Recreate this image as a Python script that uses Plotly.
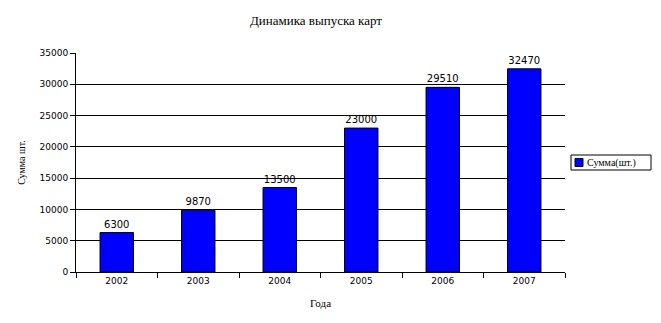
import plotly.graph_objects as go

years = ["2002", "2003", "2004", "2005", "2006", "2007"]
values = [6300, 9870, 13500, 23000, 29510, 32470]
series_name = "Сумма(шт.)"
y_ticks = [0, 5000, 10000, 15000, 20000, 25000, 30000, 35000]

W, H = 661, 323
L, R, T, B = 76, 96, 53, 51

fig = go.Figure()
fig.add_trace(go.Bar(
    x=years, y=values, name=series_name,
    marker=dict(color="#0000FF", line=dict(color="black", width=1)),
    width=0.41,
    text=[str(v) for v in values], textposition="outside",
    textfont=dict(family="DejaVu Sans", size=10, color="black"),
    cliponaxis=False, showlegend=False,
))

fig.update_layout(
    width=W, height=H,
    margin=dict(l=L, r=R, t=T, b=B, autoexpand=False),
    paper_bgcolor="white", plot_bgcolor="white",
    title=dict(text="Динамика выпуска карт", x=0.478, xanchor="center", y=1 - 20 / H, yanchor="middle",
               font=dict(family="Liberation Serif", size=13, color="black")),
    showlegend=False,
    bargap=0.59,
)

# legend box drawn manually; paper coords are relative to the plot area
def px(x):
    return (x - L) / (W - L - R)

def py(y):
    return (H - B - y) / (H - T - B)

fig.add_shape(type="rect", xref="paper", yref="paper",
              x0=px(571), x1=px(651), y0=py(155), y1=py(170),
              line=dict(color="black", width=1), fillcolor="white")
fig.add_shape(type="rect", xref="paper", yref="paper",
              x0=px(575), x1=px(583), y0=py(158.5), y1=py(166.5),
              line=dict(color="black", width=1), fillcolor="#0000FF")
fig.add_annotation(text=series_name, xref="paper", yref="paper",
                   x=px(585), y=py(162.5), xanchor="left", yanchor="middle", showarrow=False,
                   font=dict(family="Liberation Serif", size=10, color="black"))

fig.update_xaxes(
    type="category", showline=True, linecolor="black", linewidth=1,
    ticks="outside", ticklen=5, tickcolor="black", tickson="boundaries",
    tickfont=dict(family="DejaVu Sans", size=9, color="black"),
    title=dict(text="Года", font=dict(family="Liberation Serif", size=11, color="black"), standoff=14),
    showgrid=False,
)
fig.update_yaxes(
    range=[0, 35000], tickvals=y_ticks, ticktext=[str(v) for v in y_ticks],
    showline=True, linecolor="black", linewidth=1,
    ticks="outside", ticklen=5, tickcolor="black",
    tickfont=dict(family="DejaVu Sans", size=9, color="black"),
    showgrid=True, gridcolor="black", gridwidth=1, zeroline=False,
    title=dict(text="Сумма шт.", font=dict(family="Liberation Serif", size=10, color="black"), standoff=12),
)

fig.write_html("out.html")
